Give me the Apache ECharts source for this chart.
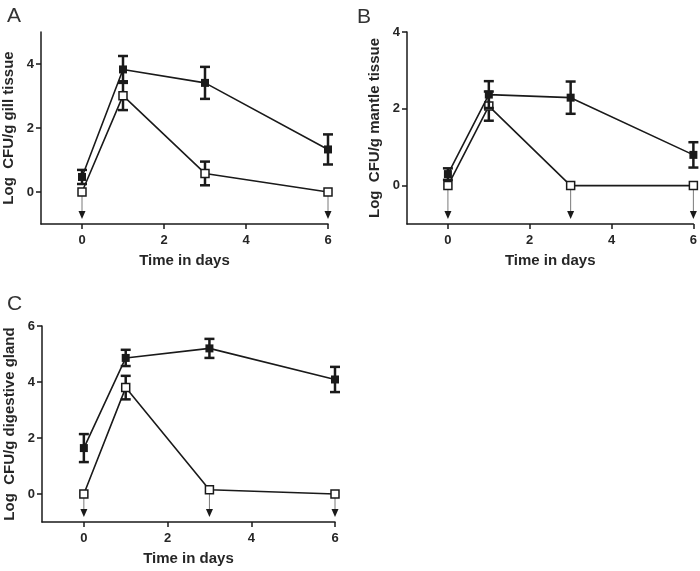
<!DOCTYPE html>
<html><head><meta charset="utf-8">
<script src="https://cdn.jsdelivr.net/npm/echarts@6/dist/echarts.min.js"></script>
<style>html,body{margin:0;padding:0;background:#fff}#c{width:700px;height:571px}</style>
</head><body><div id="c"></div>
<script>
const days = [0, 1, 3, 6];
const xTicks = [0, 2, 4, 6];

const gillFilled = [0.47, 3.83, 3.41, 1.33];
const gillFilledErr = [0.22, 0.42, 0.50, 0.47];
const gillOpen = [0, 3.01, 0.58, 0];
const gillOpenErr = [0, 0.45, 0.37, 0];
const gillArrowDays = [0, 6];
const gillTicks = [0, 2, 4];

const mantleFilled = [0.30, 2.37, 2.29, 0.80];
const mantleFilledErr = [0.15, 0.35, 0.42, 0.33];
const mantleOpen = [0, 2.07, 0, 0];
const mantleOpenErr = [0, 0.38, 0, 0];
const mantleArrowDays = [0, 3, 6];
const mantleTicks = [0, 2, 4];

const digFilled = [1.64, 4.86, 5.20, 4.09];
const digFilledErr = [0.50, 0.29, 0.34, 0.45];
const digOpen = [0, 3.80, 0.15, 0];
const digOpenErr = [0, 0.42, 0, 0];
const digArrowDays = [0, 3, 6];
const digTicks = [0, 2, 4, 6];

const panels = [
  {label: 'A', yName: 'Log  CFU/g gill tissue', ymin: -1, ymax: 5, yTicks: gillTicks,
   filled: gillFilled, filledErr: gillFilledErr, open: gillOpen, openErr: gillOpenErr, arrows: gillArrowDays,
   grid: {left: 40, top: 32, width: 288, height: 192}, title: {left: 2, top: 1}},
  {label: 'B', yName: 'Log  CFU/g mantle tissue', ymin: -1, ymax: 4, yTicks: mantleTicks,
   filled: mantleFilled, filledErr: mantleFilledErr, open: mantleOpen, openErr: mantleOpenErr, arrows: mantleArrowDays,
   grid: {left: 407, top: 32, width: 288, height: 192}, title: {left: 352, top: 2}},
  {label: 'C', yName: 'Log  CFU/g digestive gland', ymin: -1, ymax: 6, yTicks: digTicks,
   filled: digFilled, filledErr: digFilledErr, open: digOpen, openErr: digOpenErr, arrows: digArrowDays,
   grid: {left: 42, top: 326, width: 293, height: 196}, title: {left: 2, top: 289}}
];

const INK = '#1a1a1a';
const TXT = '#262626';
const FONT = 'Liberation Sans, Arial, sans-serif';

function errRender(params, api) {
  const x = api.value(0), y = api.value(1), e = api.value(2);
  if (!e) return null;
  const top = api.coord([x, y + e]);
  const bot = api.coord([x, y - e]);
  const hw = 5;
  const st = {stroke: INK, lineWidth: 2.5};
  return {type: 'group', children: [
    {type: 'line', shape: {x1: top[0], y1: top[1], x2: bot[0], y2: bot[1]}, style: st},
    {type: 'line', shape: {x1: top[0] - hw, y1: top[1], x2: top[0] + hw, y2: top[1]}, style: st},
    {type: 'line', shape: {x1: bot[0] - hw, y1: bot[1], x2: bot[0] + hw, y2: bot[1]}, style: st}
  ]};
}

function arrowRender(params, api) {
  const x = api.value(0), y0 = api.value(1), y1 = api.value(2);
  const a = api.coord([x, y0]);
  const b = api.coord([x, y1]);
  const tipY = b[1] - 5;
  const startY = a[1] + 4;
  return {type: 'group', children: [
    {type: 'line', shape: {x1: a[0], y1: startY, x2: a[0], y2: tipY - 6}, style: {stroke: '#7a7a7a', lineWidth: 1}},
    {type: 'polygon', shape: {points: [[a[0] - 3.5, tipY - 8], [a[0] + 3.5, tipY - 8], [a[0], tipY]]}, style: {fill: INK}}
  ]};
}

const option = {
  animation: false,
  backgroundColor: '#fff',
  title: [], grid: [], xAxis: [], yAxis: [], series: []
};

panels.forEach((p, i) => {
  option.title.push({text: p.label, left: p.title.left, top: p.title.top,
    textStyle: {fontFamily: FONT, fontSize: 21, fontWeight: 'normal', color: '#333'}});
  option.grid.push(p.grid);
  option.xAxis.push({
    type: 'value', gridIndex: i, min: -1, max: 6,
    name: 'Time in days', nameLocation: 'middle', nameGap: 29,
    nameTextStyle: {fontFamily: FONT, fontSize: 15, fontWeight: 'bold', color: TXT},
    axisLine: {show: true, onZero: false, lineStyle: {color: INK, width: 1.5}},
    axisTick: {show: true, length: 5, customValues: xTicks, lineStyle: {color: INK, width: 1.5}},
    axisLabel: {customValues: xTicks, fontFamily: FONT, fontSize: 13, fontWeight: 'bold', color: TXT, margin: 10},
    splitLine: {show: false}
  });
  option.yAxis.push({
    type: 'value', gridIndex: i, min: p.ymin, max: p.ymax,
    name: p.yName, nameLocation: 'middle', nameGap: 25, nameRotate: 90,
    nameTextStyle: {fontFamily: FONT, fontSize: 15, fontWeight: 'bold', color: TXT},
    axisLine: {show: true, onZero: false, lineStyle: {color: INK, width: 1.5}},
    axisTick: {show: true, length: 5, customValues: p.yTicks, lineStyle: {color: INK, width: 1.5}},
    axisLabel: {customValues: p.yTicks, fontFamily: FONT, fontSize: 13, fontWeight: 'bold', color: TXT, margin: 7},
    splitLine: {show: false}
  });
  const fData = days.map((d, k) => [d, p.filled[k]]);
  const oData = days.map((d, k) => [d, p.open[k]]);
  const fErr = days.map((d, k) => [d, p.filled[k], p.filledErr[k]]);
  const oErr = days.map((d, k) => [d, p.open[k], p.openErr[k]]);
  const arr = p.arrows.map(d => [d, p.open[days.indexOf(d)], p.ymin]);
  option.series.push(
    {type: 'custom', xAxisIndex: i, yAxisIndex: i, renderItem: arrowRender, data: arr, z: 1},
    {type: 'custom', xAxisIndex: i, yAxisIndex: i, renderItem: errRender, data: oErr, z: 2},
    {type: 'line', xAxisIndex: i, yAxisIndex: i, data: oData, symbol: 'rect', symbolSize: 8,
     lineStyle: {color: INK, width: 1.6}, itemStyle: {color: '#fff', borderColor: INK, borderWidth: 1.5}, z: 3},
    {type: 'custom', xAxisIndex: i, yAxisIndex: i, renderItem: errRender, data: fErr, z: 4},
    {type: 'line', xAxisIndex: i, yAxisIndex: i, data: fData, symbol: 'rect', symbolSize: 8,
     lineStyle: {color: INK, width: 1.6}, itemStyle: {color: INK, borderColor: INK, borderWidth: 0}, z: 5}
  );
});

const chart = echarts.init(document.getElementById('c'), null, {renderer: 'canvas'});
chart.setOption(option);
</script></body></html>
